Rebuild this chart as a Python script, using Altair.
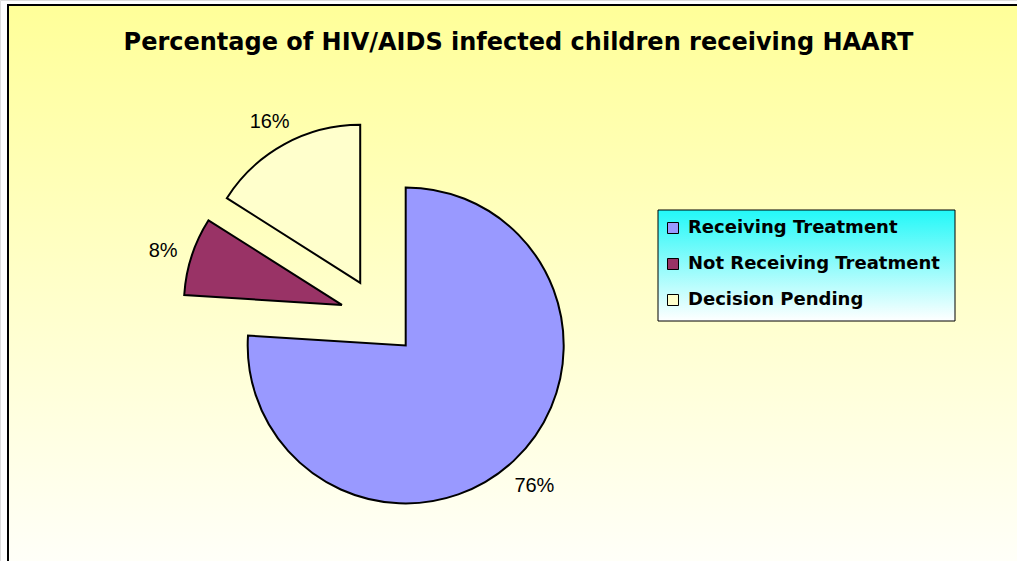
import altair as alt
import pandas as pd

# ---- data ----
categories = ["Receiving Treatment", "Not Receiving Treatment", "Decision Pending"]
values = [76, 8, 16]
colors = ["#9999FF", "#993366", "#FFFFCC"]
title_text = "Percentage of HIV/AIDS infected children receiving HAART"

df = pd.DataFrame({"category": categories, "value": values, "order": list(range(len(values)))})

W, H = 1017, 561
CX, CY = 379, 317      # pie centre (pixels)
R = 158                # pie radius
EXPLODE = 39           # slice explosion distance
RL = 188               # label distance from slice apex

one = pd.DataFrame({"k": [0]})

background = alt.Chart(one).mark_rect(
    color=alt.Gradient(gradient="linear", x1=0, x2=0, y1=0, y2=1,
                       stops=[alt.GradientStop(color="#FFFF99", offset=0),
                              alt.GradientStop(color="#FFFFFA", offset=1)]),
    stroke="black", strokeWidth=2,
).encode(x=alt.value(8), x2=alt.value(W + 10), y=alt.value(5), y2=alt.value(H + 10))

legend_box = alt.Chart(one).mark_rect(
    color=alt.Gradient(gradient="linear", x1=0, x2=0, y1=0, y2=1,
                       stops=[alt.GradientStop(color="#22F8F8", offset=0),
                              alt.GradientStop(color="#FFFFFF", offset=1)]),
    stroke="black", strokeWidth=1,
).encode(x=alt.value(658), x2=alt.value(955), y=alt.value(210), y2=alt.value(321))

base = alt.Chart(df).transform_joinaggregate(
    total="sum(value)"
).transform_window(
    cum="sum(value)", sort=[alt.SortField("order")], frame=[None, 0]
).transform_calculate(
    a0="2*PI*(datum.cum - datum.value)/datum.total",
    a1="2*PI*datum.cum/datum.total",
).transform_calculate(
    mid="(datum.a0 + datum.a1)/2",
).transform_calculate(
    cx=f"{CX} + {EXPLODE}*sin(datum.mid)",
    cy=f"{CY} - {EXPLODE}*cos(datum.mid)",
).transform_calculate(
    lx=f"datum.cx + {RL}*sin(datum.mid)",
    ly=f"datum.cy - {RL}*cos(datum.mid) + 4",
    label="format(datum.value, 'd') + '%'",
)

pie = base.mark_arc(radius=R, stroke="black", strokeWidth=2).encode(
    x=alt.X("cx:Q", scale=None, axis=None),
    y=alt.Y("cy:Q", scale=None, axis=None),
    theta=alt.Theta("a0:Q", scale=None, stack=None),
    theta2="a1:Q",
    color=alt.Color(
        "category:N",
        scale=alt.Scale(domain=categories, range=colors),
        sort=categories,
        legend=alt.Legend(
            title=None, orient="none", legendX=664, legendY=219,
            symbolType="square", symbolSize=121, symbolStrokeColor="black",
            symbolStrokeWidth=1, symbolOpacity=1,
            labelFont="DejaVu Sans", labelFontSize=18, labelFontWeight="bold",
            labelColor="black", rowPadding=18, labelOffset=6, padding=0,
            labelLimit=400,
        ),
    ),
)

labels = base.mark_text(font="Liberation Sans", fontSize=20, color="black",
                        align="center", baseline="middle").encode(
    x=alt.X("lx:Q", scale=None, axis=None),
    y=alt.Y("ly:Q", scale=None, axis=None),
    text="label:N",
)

chart = alt.layer(background, legend_box, pie, labels).properties(
    width=W, height=H,
    title=alt.TitleParams(title_text, font="DejaVu Sans", fontSize=24, fontWeight="bold",
                          color="black", anchor="middle", baseline="alphabetic",
                          offset=0, dy=74, dx=10),
    padding=0,
    autosize=alt.AutoSizeParams(type="none"),
).configure_view(stroke=None).configure(background="white")

chart.save("out.html", embed_options={"renderer": "svg", "actions": False})
